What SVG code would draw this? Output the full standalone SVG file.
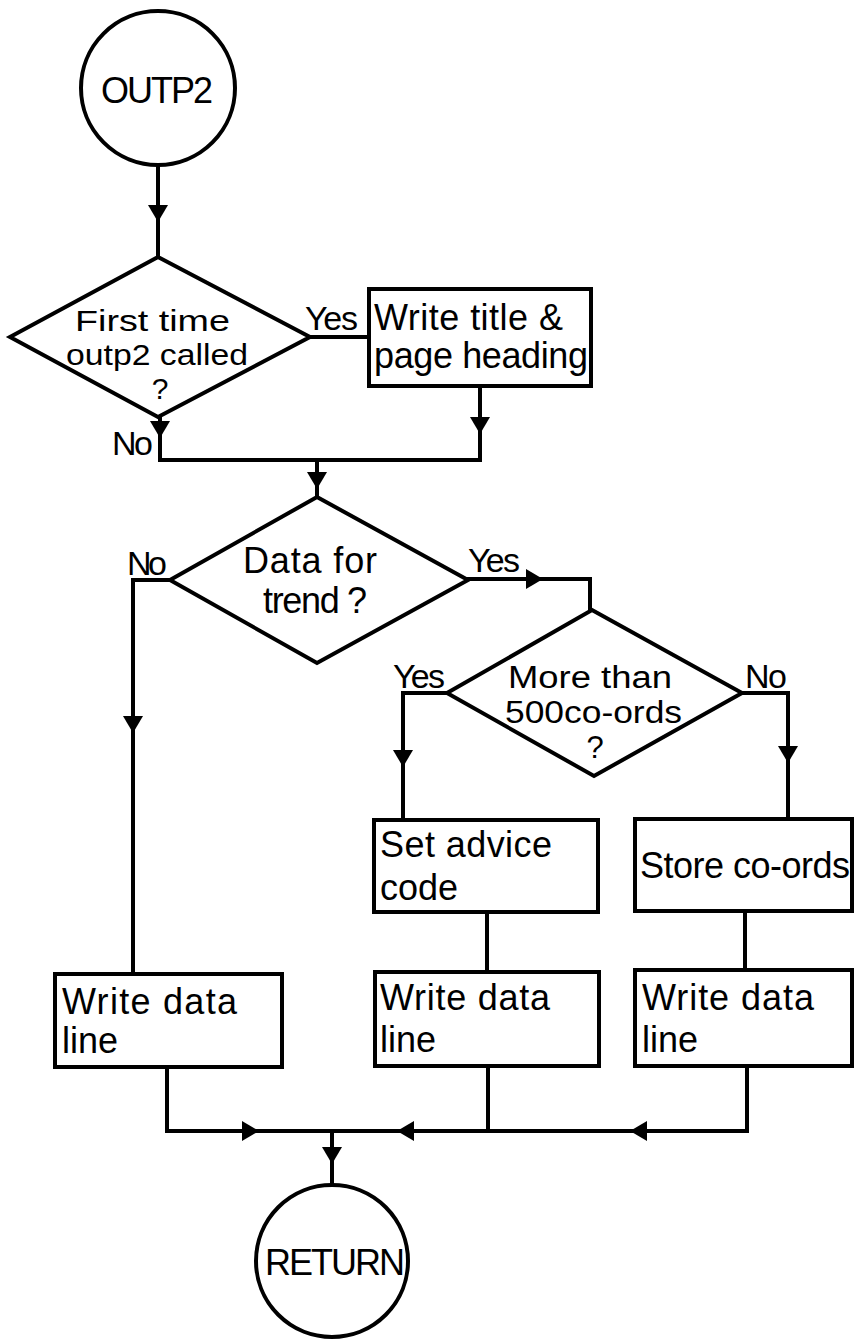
<svg xmlns="http://www.w3.org/2000/svg" xmlns:xlink="http://www.w3.org/1999/xlink" width="856" height="1342" viewBox="0 0 856 1342">
<style>
.s{fill:#fff;stroke:#000;stroke-width:4}
.c{fill:none;stroke:#000;stroke-width:4;stroke-linejoin:miter;stroke-linecap:square}
.t{font-family:"Liberation Sans",Arial,sans-serif;font-size:36px;fill:#000}
.m{text-anchor:middle}
.l{font-size:34px}
.d{font-size:30px}
.e{font-size:31px}
.ah{fill:#000;stroke:none}
</style>
<defs>
<path id="ad" d="M0,0 L-10,-17 L10,-17 Z"/>
</defs>
<rect width="856" height="1342" fill="#fff"/>

<g id="connectors">
<path class="c" d="M158,166 V257"/>
<path class="c" d="M310,337 H367"/>
<path class="c" d="M480,387 V460 H160 V417"/>
<path class="c" d="M317,460 V497"/>
<path class="c" d="M170,580 H133 V972"/>
<path class="c" d="M468,579 H590 V610"/>
<path class="c" d="M447,693 H403 V818"/>
<path class="c" d="M742,693 H788 V817"/>
<path class="c" d="M487,913 V970"/>
<path class="c" d="M745,912 V968"/>
<path class="c" d="M167,1068 V1131 H747 V1067"/>
<path class="c" d="M488,1067 V1131"/>
<path class="c" d="M332,1131 V1183"/>
<use href="#ad" class="ah" transform="translate(158,222)"/>
<use href="#ad" class="ah" transform="translate(480,434)"/>
<use href="#ad" class="ah" transform="translate(160,438)"/>
<use href="#ad" class="ah" transform="translate(317,489)"/>
<use href="#ad" class="ah" transform="translate(133,733)"/>
<use href="#ad" class="ah" transform="translate(543,579) rotate(-90)"/>
<use href="#ad" class="ah" transform="translate(403,767)"/>
<use href="#ad" class="ah" transform="translate(788,763)"/>
<use href="#ad" class="ah" transform="translate(259,1131) rotate(-90)"/>
<use href="#ad" class="ah" transform="translate(397,1131) rotate(90)"/>
<use href="#ad" class="ah" transform="translate(630,1131) rotate(90)"/>
<use href="#ad" class="ah" transform="translate(332,1164)"/>
<text class="t l" x="305" y="330" textLength="53">Yes</text>
<text class="t l" x="112" y="455" textLength="41">No</text>
<text class="t l" x="127" y="575" textLength="40">No</text>
<text class="t l" x="468" y="572" textLength="52">Yes</text>
<text class="t l" x="393" y="688" textLength="52">Yes</text>
<text class="t l" x="745" y="688" textLength="42">No</text>
</g>

<g id="start">
<circle class="s" cx="158" cy="88" r="77"/>
<text class="t m" x="157" y="103" textLength="112">OUTP2</text>
</g>

<g id="first-time">
<polygon class="s" points="158,257 310,337 158,417 10,337"/>
<text class="t d" x="75" y="331" textLength="155" lengthAdjust="spacingAndGlyphs">First time</text>
<text class="t d" x="66" y="365" textLength="182" lengthAdjust="spacingAndGlyphs">outp2 called</text>
<text class="t d m" x="160" y="399">?</text>
</g>

<g id="write-title">
<rect class="s" x="369" y="289" width="222" height="97"/>
<text class="t" x="374" y="330" textLength="189">Write title &amp;</text>
<text class="t" x="374" y="368" textLength="214">page heading</text>
</g>

<g id="data-for-trend">
<polygon class="s" points="317,497 468,580 317,663 170,580"/>
<text class="t" x="243" y="573" textLength="134">Data for</text>
<text class="t" x="263" y="613" textLength="104">trend ?</text>
</g>

<g id="more-than-500">
<polygon class="s" points="592,610 742,693 594,776 447,693"/>
<text class="t e" x="508" y="688" textLength="164" lengthAdjust="spacingAndGlyphs">More than</text>
<text class="t e" x="505" y="723" textLength="177" lengthAdjust="spacingAndGlyphs">500co-ords</text>
<text class="t e m" x="595" y="758">?</text>
</g>

<g id="set-advice">
<rect class="s" x="374" y="820" width="224" height="92"/>
<text class="t" x="380" y="857" textLength="172">Set advice</text>
<text class="t" x="380" y="900">code</text>
</g>

<g id="store-coords">
<rect class="s" x="635" y="819" width="217" height="92"/>
<text class="t" x="640" y="878" textLength="210">Store co-ords</text>
</g>

<g id="write-data-1">
<rect class="s" x="55" y="974" width="227" height="93"/>
<text class="t" x="62" y="1014" textLength="175">Write data</text>
<text class="t" x="62" y="1053">line</text>
</g>

<g id="write-data-2">
<rect class="s" x="375" y="972" width="224" height="94"/>
<text class="t" x="380" y="1010" textLength="170">Write data</text>
<text class="t" x="380" y="1052">line</text>
</g>

<g id="write-data-3">
<rect class="s" x="635" y="970" width="217" height="96"/>
<text class="t" x="642" y="1010" textLength="172">Write data</text>
<text class="t" x="642" y="1052">line</text>
</g>

<g id="return">
<circle class="s" cx="332" cy="1261" r="76"/>
<text class="t m" x="335" y="1275" textLength="140">RETURN</text>
</g>
</svg>
